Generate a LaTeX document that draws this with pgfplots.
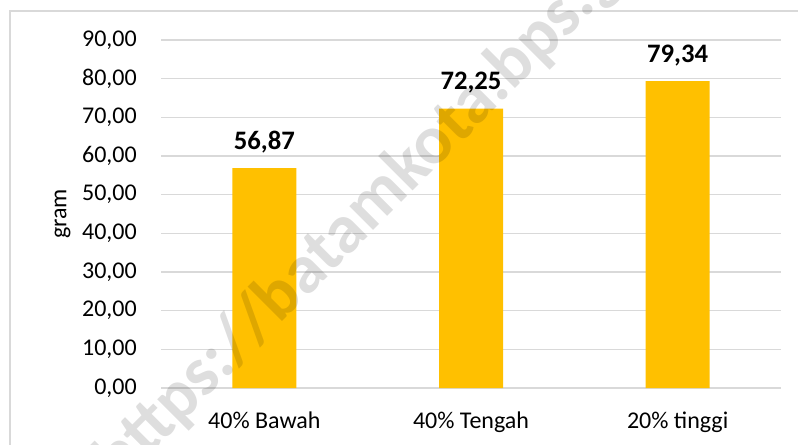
\documentclass[border=0pt]{standalone}
\usepackage{fontspec}
\setmainfont{Carlito}
\usepackage{pgfplots}
\pgfplotsset{compat=1.18}
\definecolor{barc}{HTML}{FFC000}
\definecolor{gridc}{HTML}{D9D9D9}
\begin{document}
\begin{tikzpicture}
\useasboundingbox (0,0) rectangle (598.5pt,333pt);
\draw[gridc, line width=1.5pt] (7.5pt,-2pt) -- (7.5pt,324.75pt) -- (600pt,324.75pt);
\begin{axis}[
  at={(120.75pt,42pt)}, anchor=south west,
  scale only axis, width=465pt, height=261pt,
  xmin=-0.5, xmax=2.5, ymin=0, ymax=90,
  ytick={0,10,...,90},
  xtick={0,1,2},
  xticklabels={40\% Bawah, 40\% Tengah, 20\% tinggi},
  axis line style={draw=none},
  major tick length=0pt,
  ymajorgrids, grid style={gridc, line width=0.9pt},
  /pgf/number format/.cd, assume math mode=true, use comma, fixed, fixed zerofill, precision=2,
  /pgfplots/.cd,
  ticklabel style={font=\fontsize{18}{21.6}\selectfont},
  yticklabel style={anchor=east, inner sep=0pt, xshift=-18pt},
  xticklabel style={anchor=base, inner sep=0pt, yshift=-30pt},
  ylabel={gram},
  ylabel style={at={(axis description cs:-0.1586,0.5)}, anchor=center, rotate=0, font=\fontsize{18}{21.6}\selectfont},
  ybar, bar width=48pt,
  nodes near coords,
  every node near coord/.append style={anchor=base, yshift=14.25pt, inner sep=0pt, font=\fontsize{20}{24}\bfseries\selectfont},
]
\addplot[fill=barc, draw=none] coordinates {(0,56.87) (1,72.25) (2,79.34)};
\end{axis}
\begin{scope}
\clip (0,0) rectangle (598.5pt,333pt);
\node[rotate=45, anchor=mid west, inner sep=0pt, text=black, text opacity=0.13, font=\fontsize{52}{60}\bfseries\selectfont] at (88.5pt,-28.5pt) {https://batamkota.bps.go.id};
\end{scope}
\end{tikzpicture}
\end{document}
